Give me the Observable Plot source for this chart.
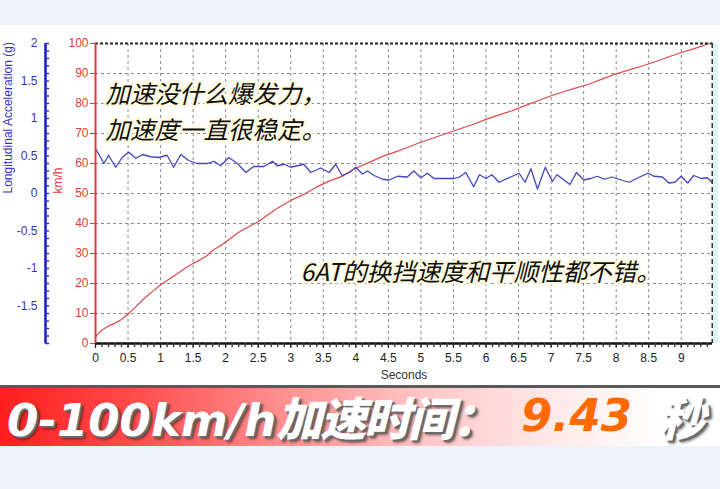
<!DOCTYPE html>
<html>
<head>
<meta charset="utf-8">
<script src="https://cdn.jsdelivr.net/npm/d3@7"></script>
<script src="https://cdn.jsdelivr.net/npm/@observablehq/plot@0.6"></script>
<style>
html,body{margin:0;padding:0;}
body{width:720px;height:489px;background:#edf1f9;position:relative;overflow:hidden;font-family:"Liberation Sans",Arial,sans-serif;}
#chart{position:absolute;left:0;top:25px;width:720px;height:360px;background:#fff;}
#strip{position:absolute;left:713px;top:43px;width:5px;height:300px;background:#dcf5f8;}
#banner{position:absolute;left:0;top:385px;width:720px;height:61px;box-sizing:border-box;border-top:3px solid #5a5a5a;
  background:linear-gradient(to right,#ff1e1e 0%,#ff4a4a 18%,#ff8c8c 38%,#ffc4c4 58%,#ffe6e6 75%,#ffffff 92%);}
#banner span{position:absolute;top:0;line-height:56px;font-size:45px;font-weight:bold;font-style:italic;
  font-family:"DejaVu Sans","Noto Sans CJK SC",sans-serif;white-space:nowrap;}
#banner .cjk{font-family:"Noto Sans CJK SC",sans-serif;font-weight:900;font-size:46px;letter-spacing:-2px;}
.w{color:#fff;text-shadow:2px 2px 0 #6a6a6a,3px 3px 3px rgba(0,0,0,0.55);}
.o{color:#ff6a00;}
</style>
</head>
<body>
<div id="chart"></div>
<div id="strip"></div>
<div id="banner">
  <span class="w" style="left:7px">0-100km/h<span class="cjk" style="position:static">加速时间：</span></span>
  <span class="o" style="left:521px">9.43</span>
  <span class="w cjk" style="left:659px">秒</span>
</div>
<script>
// ---- data ----
const speedTime = [0,0.1,0.2,0.3,0.4,0.5,0.6,0.7,0.8,0.9,1.0,1.1,1.2,1.3,1.4,1.5,1.6,1.7,1.8,1.9,2.0,2.2,2.4,2.5,2.6,2.8,3.0,3.2,3.4,3.6,3.8,4.0,4.2,4.4,4.6,4.8,5.0,5.2,5.4,5.6,5.8,6.0,6.2,6.4,6.6,6.8,7.0,7.2,7.4,7.6,7.8,8.0,8.2,8.4,8.6,8.8,9.0,9.2,9.43];
const speedKmh  = [2.3,4.5,5.8,6.8,8.0,9.9,11.8,14.0,16.0,17.8,19.6,21.0,22.4,23.9,25.4,26.7,27.8,29.1,31.0,32.3,33.8,37.1,39.5,40.6,42.2,45.2,47.7,49.7,52.2,54.2,55.8,58.5,60.3,62.3,63.8,65.4,67.1,68.6,70.1,71.6,73.0,74.7,76.2,77.6,79.3,80.9,82.6,84.0,85.3,86.6,88.3,89.9,91.2,92.5,93.9,95.5,97.0,98.3,100];
const accTime = [0,0.13,0.2,0.31,0.41,0.51,0.62,0.72,0.85,0.97,1.1,1.2,1.31,1.43,1.56,1.72,1.82,1.92,2.05,2.18,2.31,2.43,2.59,2.72,2.79,2.9,3.0,3.2,3.31,3.46,3.59,3.69,3.79,3.9,4.0,4.1,4.18,4.28,4.41,4.51,4.64,4.79,4.89,5.0,5.1,5.2,5.51,5.59,5.69,5.81,5.9,6.0,6.09,6.2,6.38,6.51,6.6,6.69,6.79,6.91,7.02,7.09,7.29,7.39,7.5,7.61,7.71,7.82,7.93,8.08,8.2,8.36,8.49,8.58,8.71,8.81,8.9,9.0,9.1,9.19,9.31,9.4,9.47];
const accG    = [0.60,0.40,0.51,0.35,0.48,0.55,0.47,0.52,0.49,0.48,0.51,0.35,0.52,0.44,0.40,0.40,0.43,0.37,0.48,0.40,0.28,0.36,0.36,0.43,0.37,0.39,0.35,0.39,0.28,0.34,0.28,0.39,0.24,0.28,0.35,0.26,0.30,0.24,0.19,0.18,0.23,0.22,0.30,0.21,0.27,0.20,0.20,0.22,0.28,0.09,0.25,0.20,0.25,0.15,0.22,0.27,0.15,0.33,0.06,0.35,0.16,0.25,0.12,0.28,0.18,0.20,0.23,0.19,0.22,0.18,0.15,0.22,0.27,0.23,0.22,0.14,0.15,0.23,0.14,0.24,0.20,0.21,0.15];
const xTicks   = [0,0.5,1,1.5,2,2.5,3,3.5,4,4.5,5,5.5,6,6.5,7,7.5,8,8.5,9];
const kmhTicks = [0,10,20,30,40,50,60,70,80,90,100];
const gTicks   = [-1.5,-1,-0.5,0,0.5,1,1.5,2];
const xTitle = "Seconds";
const kmhTitle = "km/h";
const gTitle = "Longitudinal Acceleration (g)";
const note1a = "加速没什么爆发力，";
const note1b = "加速度一直很稳定。";
const note2 = "6AT的换挡速度和平顺性都不错。";

// ---- build ----
const xEnd = 9.48;
const speed = speedTime.map((t, i) => ({t, v: speedKmh[i]}));
const acc = accTime.map((t, i) => ({t, g: accG[i]}));
const gScale = d3.scaleLinear([-2, 2], [0, 100]); // secondary axis (g) mapped onto km/h axis
const gMinor = d3.range(-20, 21).map(i => i / 10);
const xMinor = d3.range(0, 95).map(i => i / 10);
const RED = "#e23a3a", BLUE = "#3434c4";
const noteStyle = {fill: "#111", stroke: "#fffbe0", strokeWidth: 5, strokeLinejoin: "round",
  fontSize: 24.5, fontStyle: "italic", fontFamily: "'Noto Sans CJK SC', 'Noto Sans', sans-serif",
  textAnchor: "start", frameAnchor: "top-left", lineAnchor: "middle"};

const chart = Plot.plot({
  width: 720, height: 360,
  marginLeft: 95, marginRight: 8, marginTop: 18, marginBottom: 42,
  style: {fontFamily: "'Liberation Sans', Arial, sans-serif", fontSize: "12px", background: "transparent"},
  x: {domain: [0, xEnd], label: null},
  y: {domain: [0, 100], label: null},
  marks: [
    Plot.gridX(xTicks.filter(d => d > 0), {stroke: "#8a8a8a", strokeOpacity: 1, strokeDasharray: "3,3"}),
    Plot.gridY(kmhTicks.filter(d => d > 0 && d < 100), {stroke: "#8a8a8a", strokeOpacity: 1, strokeDasharray: "3,3"}),
    Plot.line(speed, {x: "t", y: "v", stroke: "#e04848", strokeWidth: 1.2}),
    Plot.line(acc, {x: "t", y: d => gScale(d.g), stroke: "#4444c0", strokeWidth: 1.3}),
    Plot.ruleY([100], {stroke: "#222", strokeWidth: 2, strokeDasharray: "3,2"}),
    Plot.ruleX([xEnd], {stroke: "#333", strokeWidth: 2, strokeDasharray: "5,3"}),
    Plot.ruleY([0], {stroke: "#111", strokeWidth: 2.5}),
    Plot.ruleX([0], {stroke: RED, strokeWidth: 2}),
    // x axis
    Plot.vector(xMinor, {x: d => d, frameAnchor: "bottom", length: 3, rotate: 180, anchor: "start", r: 0, stroke: "#444"}),
    Plot.axisX(xTicks, {tickSize: 5, tickPadding: 5, tickFormat: d => String(d), color: "#222"}),
    Plot.text([xTitle], {frameAnchor: "bottom", dy: 35, fill: "#333", fontSize: 12}),
    // km/h axis
    Plot.axisY(kmhTicks, {anchor: "left", tickSize: 5, tickPadding: 2, tickFormat: d => String(d), color: RED}),
    Plot.text([kmhTitle], {frameAnchor: "left", dx: -37, rotate: -90, fill: RED, fontSize: 12}),
    // g axis (secondary)
    Plot.ruleX([0], {dx: -50, stroke: "#1a1acc", strokeWidth: 2.5}),
    Plot.vector(gMinor, {y: d => gScale(d), frameAnchor: "left", dx: -50, length: 3, rotate: 90, anchor: "start", r: 0, stroke: BLUE}),
    Plot.text(gTicks, {y: d => gScale(d), text: d => String(d), frameAnchor: "left", dx: -58, textAnchor: "end", fill: BLUE}),
    Plot.text([gTitle], {frameAnchor: "left", dx: -87, rotate: -90, fill: BLUE, fontSize: 12}),
    // notes
    Plot.text([note1a], {...noteStyle, dx: 10, dy: 52}),
    Plot.text([note1b], {...noteStyle, dx: 10, dy: 88}),
    Plot.text([note2], {...noteStyle, dx: 205, dy: 230})
  ]
});
document.getElementById("chart").appendChild(chart);
</script>
</body>
</html>
